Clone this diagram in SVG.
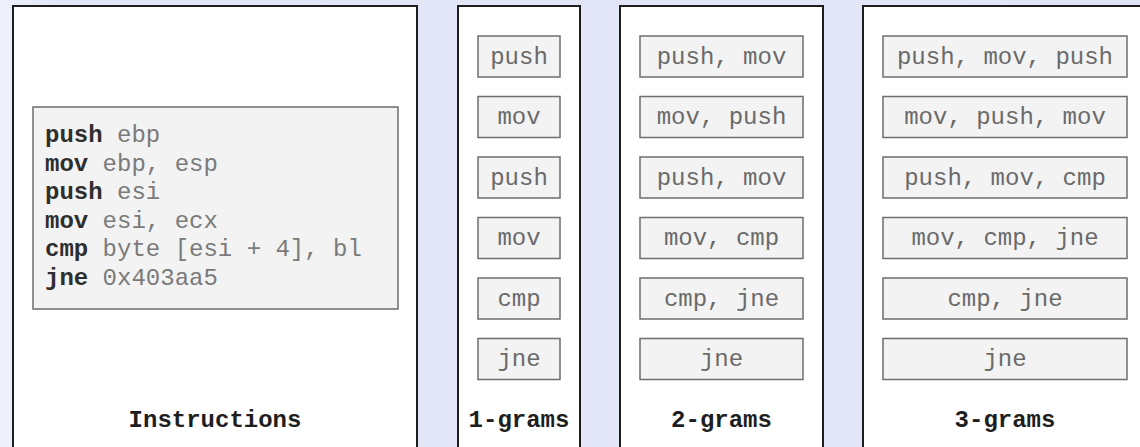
<svg xmlns="http://www.w3.org/2000/svg" width="1140" height="447" viewBox="0 0 1140 447">
  <defs>
    <linearGradient id="bg" x1="0" y1="0" x2="1" y2="0">
      <stop offset="0" stop-color="#eef0fb"/>
      <stop offset="0.05" stop-color="#e4e7f8"/>
      <stop offset="1" stop-color="#e2e5f7"/>
    </linearGradient>
  </defs>
  <style>
    .panel { fill: #ffffff; stroke: #1e1e1e; stroke-width: 2; }
    .box { fill: #f3f3f3; stroke: #6e6e6e; stroke-width: 1.5; }
    .t { font-family: "Liberation Mono", "Courier New", monospace; font-size: 24px; }
    .gram { fill: #6a6a6a; text-anchor: middle; }
    .op { font-weight: bold; fill: #2e2e2e; }
    .arg { fill: #7a7a7a; }
    .label { font-weight: bold; fill: #1e1e1e; text-anchor: middle; }
  </style>
  <rect x="0" y="0" width="1140" height="447" fill="url(#bg)"/>

  <g id="instructions">
    <rect class="panel" x="13" y="6" width="404" height="450"/>
    <rect class="box" x="33" y="107" width="365" height="202"/>
    <text class="t" x="45" y="142"><tspan class="op">push</tspan><tspan class="arg"> ebp</tspan></text>
    <text class="t" x="45" y="170.6"><tspan class="op">mov</tspan><tspan class="arg"> ebp, esp</tspan></text>
    <text class="t" x="45" y="199.2"><tspan class="op">push</tspan><tspan class="arg"> esi</tspan></text>
    <text class="t" x="45" y="227.8"><tspan class="op">mov</tspan><tspan class="arg"> esi, ecx</tspan></text>
    <text class="t" x="45" y="256.4"><tspan class="op">cmp</tspan><tspan class="arg"> byte [esi + 4], bl</tspan></text>
    <text class="t" x="45" y="285"><tspan class="op">jne</tspan><tspan class="arg"> 0x403aa5</tspan></text>
    <text class="t label" x="215" y="427">Instructions</text>
  </g>

  <g id="grams1">
    <rect class="panel" x="458" y="6" width="122" height="450"/>
    <rect class="box" x="478" y="36" width="82" height="41"/>
    <rect class="box" x="478" y="96.5" width="82" height="41"/>
    <rect class="box" x="478" y="157" width="82" height="41"/>
    <rect class="box" x="478" y="217.5" width="82" height="41"/>
    <rect class="box" x="478" y="278" width="82" height="41"/>
    <rect class="box" x="478" y="338.5" width="82" height="41"/>
    <text class="t gram" x="519" y="63.5">push</text>
    <text class="t gram" x="519" y="124">mov</text>
    <text class="t gram" x="519" y="184.5">push</text>
    <text class="t gram" x="519" y="245">mov</text>
    <text class="t gram" x="519" y="305.5">cmp</text>
    <text class="t gram" x="519" y="366">jne</text>
    <text class="t label" x="519" y="427">1-grams</text>
  </g>

  <g id="grams2">
    <rect class="panel" x="620" y="6" width="203" height="450"/>
    <rect class="box" x="640" y="36" width="163" height="41"/>
    <rect class="box" x="640" y="96.5" width="163" height="41"/>
    <rect class="box" x="640" y="157" width="163" height="41"/>
    <rect class="box" x="640" y="217.5" width="163" height="41"/>
    <rect class="box" x="640" y="278" width="163" height="41"/>
    <rect class="box" x="640" y="338.5" width="163" height="41"/>
    <text class="t gram" x="721.5" y="63.5">push, mov</text>
    <text class="t gram" x="721.5" y="124">mov, push</text>
    <text class="t gram" x="721.5" y="184.5">push, mov</text>
    <text class="t gram" x="721.5" y="245">mov, cmp</text>
    <text class="t gram" x="721.5" y="305.5">cmp, jne</text>
    <text class="t gram" x="721.5" y="366">jne</text>
    <text class="t label" x="721.5" y="427">2-grams</text>
  </g>

  <g id="grams3">
    <rect class="panel" x="863" y="6" width="290" height="450"/>
    <rect class="box" x="883" y="36" width="244" height="41"/>
    <rect class="box" x="883" y="96.5" width="244" height="41"/>
    <rect class="box" x="883" y="157" width="244" height="41"/>
    <rect class="box" x="883" y="217.5" width="244" height="41"/>
    <rect class="box" x="883" y="278" width="244" height="41"/>
    <rect class="box" x="883" y="338.5" width="244" height="41"/>
    <text class="t gram" x="1005" y="63.5">push, mov, push</text>
    <text class="t gram" x="1005" y="124">mov, push, mov</text>
    <text class="t gram" x="1005" y="184.5">push, mov, cmp</text>
    <text class="t gram" x="1005" y="245">mov, cmp, jne</text>
    <text class="t gram" x="1005" y="305.5">cmp, jne</text>
    <text class="t gram" x="1005" y="366">jne</text>
    <text class="t label" x="1005" y="427">3-grams</text>
  </g>

  <g id="connectors"/>
</svg>
